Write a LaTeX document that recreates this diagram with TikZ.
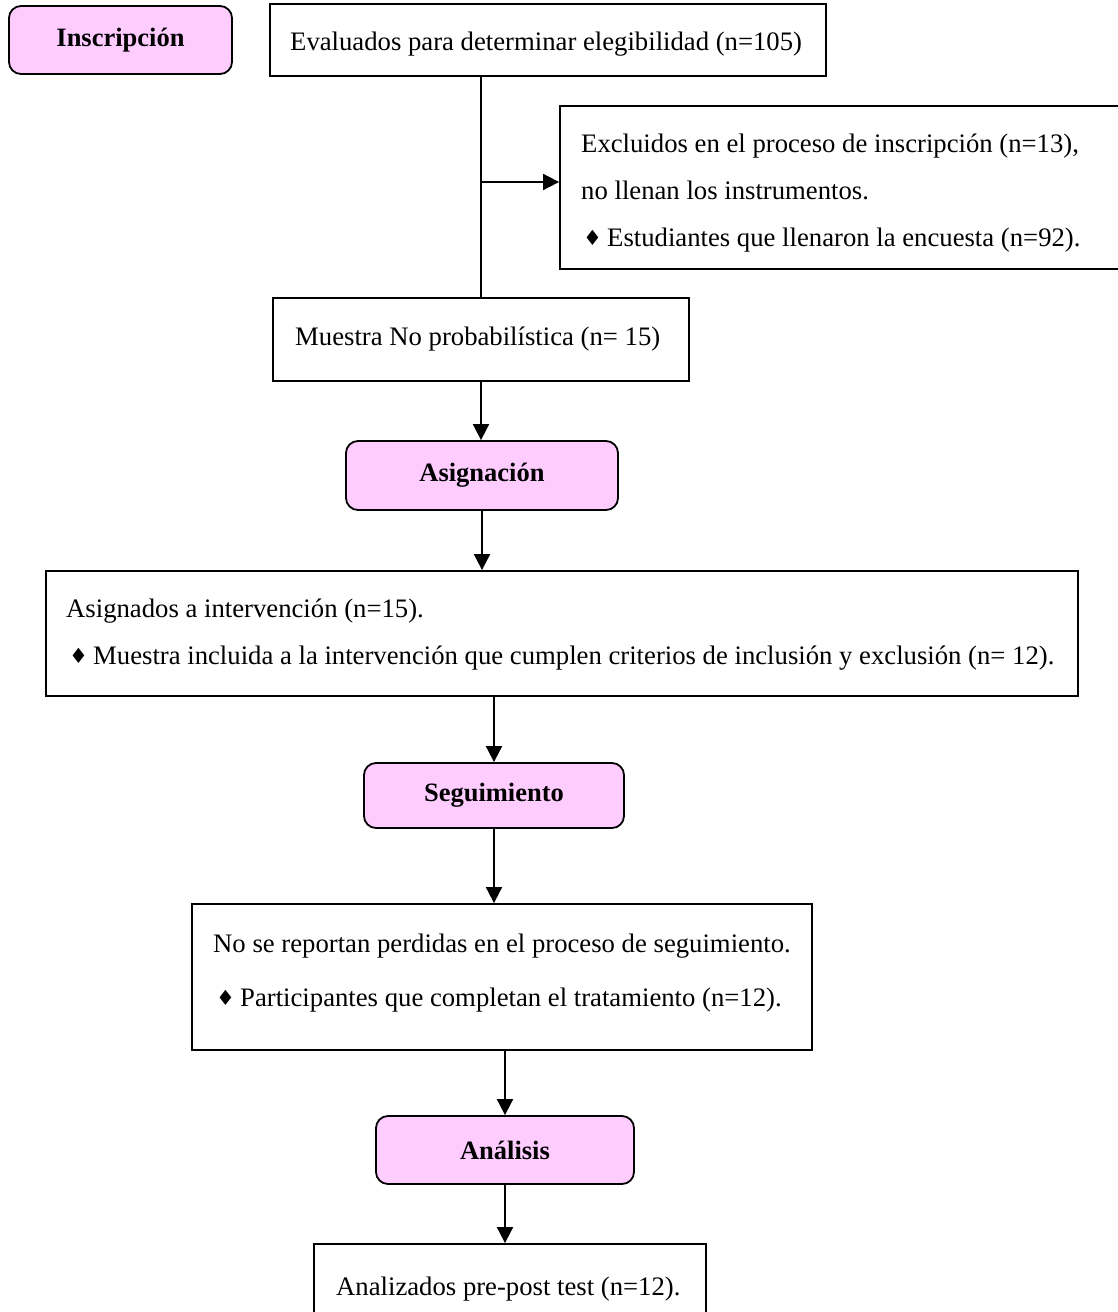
\documentclass[tikz,border=0pt]{standalone}
\usepackage{fontspec}
\setmainfont{Liberation Serif}
\newfontfamily\symf{DejaVu Sans}
\usetikzlibrary{arrows.meta}
\definecolor{phasepink}{HTML}{FFCCFF}
\newcommand{\dmd}{\makebox[24pt][l]{\symf\fontsize{21}{21}\selectfont\raisebox{0.5pt}{♦}}}
\tikzset{
  box/.style={draw, line width=1.8pt, rectangle, inner sep=0pt},
  phase/.style={box, rounded corners=12pt, fill=phasepink,
    font=\fontsize{26.5}{30}\selectfont\bfseries},
  txt/.style={inner sep=0pt, anchor=mid west, font=\fontsize{26.7}{30}\selectfont},
  arr/.style={line width=1.8pt, -{Triangle[length=16pt,width=16pt]}},
  conn/.style={line width=1.8pt}
}
\begin{document}
\begin{tikzpicture}[x=1pt,y=-1pt]
\useasboundingbox (0,0) rectangle (1118,1312);
\clip (0,0) rectangle (1118,1312);
\fill[white] (0,0) rectangle (1118,1312);

% phase labels
\node[phase, minimum width=223pt, minimum height=68pt] (insc) at (120.5,40) {Inscripción};
\node[phase, minimum width=272pt, minimum height=69pt] (asig) at (482,475.5) {Asignación};
\node[phase, minimum width=260pt, minimum height=65pt] (seg) at (494,795.5) {Seguimiento};
\node[phase, minimum width=258pt, minimum height=68pt] (anl) at (505,1150) {Análisis};

% boxes
\node[box, minimum width=556pt, minimum height=72pt] (eval) at (548,40) {};
\node[box, minimum width=570pt, minimum height=163pt] (excl) at (845,187.5) {};
\node[box, minimum width=416pt, minimum height=83pt] (mues) at (481,339.5) {};
\node[box, minimum width=1032pt, minimum height=125pt] (asgn) at (562,633.5) {};
\node[box, minimum width=620pt, minimum height=146pt] (norep) at (502,977) {};
\node[box, minimum width=392pt, minimum height=100pt] (anlz) at (510,1294) {};

% texts
\node[txt] (t1) at (290,48) {Evaluados para determinar elegibilidad (n=105)};
\node[txt] (t2) at (581,150) {Excluidos en el proceso de inscripción (n=13),};
\node[txt] (t3) at (581,197) {no llenan los instrumentos.};
\node[txt] (t4) at (583,244) {\dmd Estudiantes que llenaron la encuesta (n=92).};
\node[txt] (t5) at (295,343) {Muestra No probabilística (n= 15)};
\node[txt] (t6) at (66,615) {Asignados a intervención (n=15).};
\node[txt] (t7) at (69,662) {\dmd Muestra incluida a la intervención que cumplen criterios de inclusión y exclusión (n= 12).};
\node[txt] (t8) at (213,950) {No se reportan perdidas en el proceso de seguimiento.};
\node[txt] (t9) at (216,1004) {\dmd Participantes que completan el tratamiento (n=12).};
\node[txt] (t10) at (336,1293) {Analizados pre-post test (n=12).};

% connectors
\coordinate (br) at (481,182);
\draw[conn] (mues.north |- eval.south) -- (mues.north);
\draw[arr] (br) -- (excl.west |- br);
\draw[arr] (mues.south) -- (mues.south |- asig.north);
\draw[arr] (asig.south) -- (asig.south |- asgn.north);
\draw[arr] (seg.north |- asgn.south) -- (seg.north);
\draw[arr] (seg.south) -- (seg.south |- norep.north);
\draw[arr] (anl.north |- norep.south) -- (anl.north);
\draw[arr] (anl.south) -- (anl.south |- anlz.north);
\end{tikzpicture}
\end{document}
